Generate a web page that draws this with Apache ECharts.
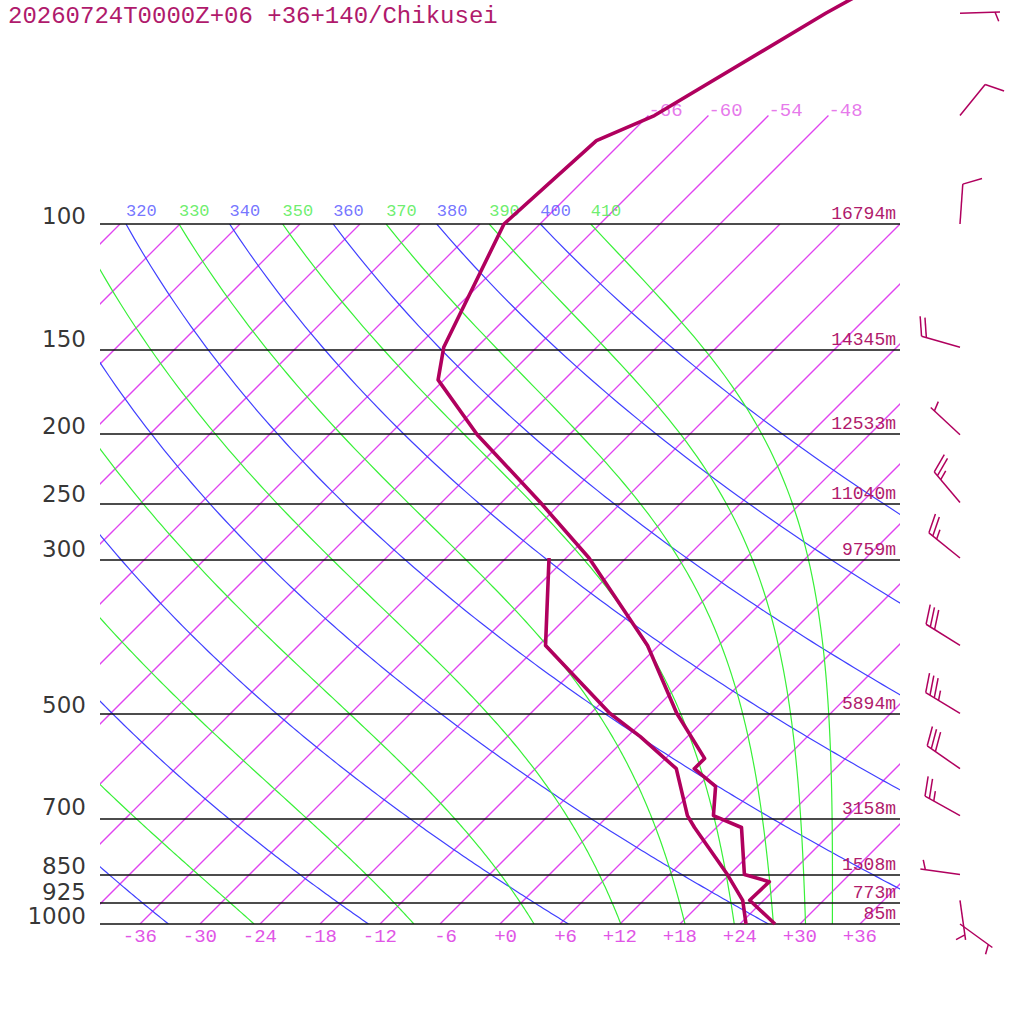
<!DOCTYPE html>
<html><head><meta charset="utf-8">
<script src="https://cdn.jsdelivr.net/npm/echarts@6/dist/echarts.min.js"></script>
<style>html,body{margin:0;padding:0;background:#fff}#c{width:1024px;height:1024px}</style>
</head><body><div id="c"></div>
<script>
// ---------- data ----------
const titleText = '20260724T0000Z+06 +36+140/Chikusei';
const isobarP = [100, 150, 200, 250, 300, 500, 700, 850, 925, 1000];
const isobarHeight = ['16794m', '14345m', '12533m', '11040m', '9759m', '5894m', '3158m', '1508m', '773m', '85m'];
const tempTicks = [-36, -30, -24, -18, -12, -6, 0, 6, 12, 18, 24, 30, 36];
const isothermT = [-108, -102, -96, -90, -84, -78, -72, -66, -60, -54, -48, -42, -36, -30, -24, -18, -12, -6, 0, 6, 12, 18, 24, 30, 36];
const isothermTopT = [-66, -60, -54, -48];
const isothermTopP = 70;
const dryTheta = [240, 260, 280, 300, 320, 340, 360, 380, 400];
const moistThetaE = [250, 270, 290, 310, 330, 350, 370, 390, 410];

const tempP = [1000, 925, 870, 850, 728, 700, 636, 600, 580, 500, 400, 300, 250, 200, 167, 150, 100, 76, 70, 50, 30];
const tempT = [27.5, 22.6, 22.7, 19.5, 14.5, 10.5, 7.8, 3.9, 3.9, -3.4, -13.1, -27.7, -38.1, -51.2, -60.6, -63.3, -69.6, -68.7, -65.4, -58.5, -46];
const dewP = [1000, 925, 850, 728, 700, 600, 540, 500, 436, 400, 300];
const dewT = [24.6, 21.9, 17.8, 9.8, 7.9, 2.1, -4.7, -10.1, -18.2, -23.3, -31.7];

const windP = [1000, 925, 850, 700, 600, 500, 400, 300, 250, 200, 150, 100, 70, 50];
const windDir = [126, 172, 278, 299, 305, 301, 302, 309, 320, 313, 286, 4, 39, 88];
const windSpd = [5, 5, 5, 25, 30, 35, 30, 25, 25, 5, 20, 10, 10, 5];

// ---------- diagram geometry / thermodynamics ----------
const SKEW = 70;           // skewed-x units per decade of pressure
const Y = p => Math.log10(1000 / p);
const X = (t, p) => t + SKEW * Y(p);

function esat(tc) { return 6.112 * Math.exp(17.67 * tc / (tc + 243.5)); }
function thetaE(tk, p) {
  const es = esat(tk - 273.15);
  if (es > 0.5 * p) return 1e9;
  const r = 0.622 * es / (p - es), rg = r * 1000;
  return tk * Math.pow(1000 / p, 0.2854 * (1 - 0.28 * r)) *
    Math.exp((3.376 / tk - 0.00254) * rg * (1 + 0.00081 * rg));
}
function moistT(the, p) {
  let lo = 120, hi = 360;
  for (let i = 0; i < 60; i++) {
    const mid = (lo + hi) / 2;
    if (thetaE(mid, p) > the) hi = mid; else lo = mid;
  }
  return (lo + hi) / 2 - 273.15;
}
function dryT(th, p) { return th * Math.pow(p / 1000, 0.2857) - 273.15; }

const levels = [];
for (let p = 1000; p >= 100; p -= 5) levels.push(p);

// ---------- styles ----------
const C_ISO = '#e044f0', C_ISO_LBL = '#e055e6';
const C_DRY = '#4040ff', C_DRY_LBL = '#5252ff';
const C_MST = '#38f038', C_MST_LBL = '#48ea48';
const C_SND = '#b0005e', C_TXT = '#b01a6c';
const MONO = '"Liberation Mono", "DejaVu Sans Mono", monospace';

const series = [];

function curveSeries(curves, color, clip, z, w) {
  return {
    type: 'custom', coordinateSystem: 'cartesian2d', silent: true, clip: clip, z: z,
    data: curves.map((c, i) => [i]),
    encode: { x: [], y: [] },
    renderItem: (params, api) => {
      const c = curves[params.dataIndex];
      return {
        type: 'polyline',
        shape: { points: c.map(q => api.coord(q)) },
        style: { stroke: color, lineWidth: w || 1, fill: null }
      };
    }
  };
}

// isotherms
series.push(curveSeries(isothermT.map(t => [[X(t, 1000), Y(1000)], [X(t, 100), Y(100)]]), C_ISO, true, 1, 1.3));
series.push(curveSeries(isothermTopT.map(t => [[X(t, 100), Y(100)], [X(t, isothermTopP), Y(isothermTopP)]]), C_ISO, false, 1, 1.3));
series.push({
  type: 'scatter', silent: true, symbolSize: 0, clip: false, z: 5,
  data: isothermTopT.map(t => ({ value: [X(t, isothermTopP), Y(isothermTopP)], name: (t > 0 ? '+' : '') + t })),
  label: { show: true, position: 'right', distance: 0, offset: [0, -5], formatter: '{b}',
    color: C_ISO_LBL, fontFamily: MONO, fontSize: 19 }
});
// dry adiabats
series.push(curveSeries(dryTheta.map(th => levels.map(p => [X(dryT(th, p), p), Y(p)])), C_DRY, true, 2, 1.2));
// moist adiabats
series.push(curveSeries(moistThetaE.map(th => levels.map(p => [X(moistT(th, p), p), Y(p)])), C_MST, true, 2, 1.2));
// adiabat labels at 100 hPa
const lblData = [];
dryTheta.forEach(th => { const x = X(dryT(th, 100), 100); if (x >= -40) lblData.push({ value: [x, Y(100)], name: String(th), c: C_DRY_LBL }); });
moistThetaE.forEach(th => { const x = X(moistT(th, 100), 100); if (x >= -40) lblData.push({ value: [x, Y(100)], name: String(th), c: C_MST_LBL }); });
series.push({
  type: 'scatter', silent: true, symbolSize: 0, clip: false, z: 5,
  data: lblData.map(d => ({ value: d.value, name: d.name, label: { color: d.c } })),
  label: { show: true, position: 'top', align: 'left', distance: 4, formatter: '{b}', fontFamily: MONO, fontSize: 17 }
});
// isobars with heights
series.push({
  type: 'line', silent: true, symbol: 'none', data: [], z: 4,
  markLine: {
    silent: true, symbol: 'none', animation: false,
    lineStyle: { color: '#111', width: 1.5, type: 'solid' },
    label: { show: true, position: 'insideEndTop', distance: [4, 1], color: C_TXT, fontFamily: MONO, fontSize: 18 },
    data: isobarP.map((p, i) => ({ yAxis: Y(p), label: { formatter: isobarHeight[i] } }))
  }
});
// pressure labels at left
series.push({
  type: 'scatter', silent: true, symbolSize: 0, clip: false, z: 5,
  data: isobarP.map(p => ({ value: [-40, Y(p)], name: String(p) })),
  label: { show: true, position: 'left', distance: 14, formatter: '{b}', align: 'right',
    verticalAlign: 'bottom', lineHeight: 17,
    color: '#000', fontFamily: '"DejaVu Sans", sans-serif', fontSize: 23 }
});
// sounding
series.push({
  type: 'line', silent: true, symbol: 'none', clip: false, z: 10,
  lineStyle: { color: C_SND, width: 3.6, join: 'round' },
  data: tempP.map((p, i) => [X(tempT[i], p), Y(p)])
});
series.push({
  type: 'line', silent: true, symbol: 'none', clip: false, z: 10,
  lineStyle: { color: C_SND, width: 3.6, join: 'round' },
  data: dewP.map((p, i) => [X(dewT[i], p), Y(p)])
});
// wind barbs
const BARB_OFFSET = 60, STAFF = 40, FULL = 20, HALF = 10, STEP = 5, ROT = 70 * Math.PI / 180;
series.push({
  type: 'custom', coordinateSystem: 'cartesian2d', clip: false, silent: true, z: 10,
  data: windP.map((p, i) => [40, Y(p), windDir[i], windSpd[i]]),
  encode: { x: 0, y: 1 },
  renderItem: (params, api) => {
    const pt = api.coord([api.value(0), api.value(1)]);
    const sx = pt[0] + BARB_OFFSET, sy = pt[1];
    const d = api.value(2) * Math.PI / 180, spd = api.value(3);
    const ux = Math.sin(d), uy = -Math.cos(d);
    const tx = sx + STAFF * ux, ty = sy + STAFF * uy;
    const a = Math.atan2(uy, ux) + ROT, bx = Math.cos(a), by = Math.sin(a);
    const st = { stroke: C_SND, lineWidth: 1.5 };
    const ch = [{ type: 'line', shape: { x1: sx, y1: sy, x2: tx, y2: ty }, style: st }];
    const full = Math.floor(spd / 10), half = (spd % 10) >= 5 ? 1 : 0;
    let k = 0;
    for (let f = 0; f < full; f++, k++) {
      const px = tx - STEP * k * ux, py = ty - STEP * k * uy;
      ch.push({ type: 'line', shape: { x1: px, y1: py, x2: px + FULL * bx, y2: py + FULL * by }, style: st });
    }
    if (half) {
      if (full === 0) k = 1;
      const px = tx - STEP * k * ux, py = ty - STEP * k * uy;
      ch.push({ type: 'line', shape: { x1: px, y1: py, x2: px + HALF * bx, y2: py + HALF * by }, style: st });
    }
    return { type: 'group', children: ch };
  }
});

const chart = echarts.init(document.getElementById('c'), null, { renderer: 'svg' });
chart.setOption({
  animation: false,
  backgroundColor: '#fff',
  grid: { left: 100, top: 224, width: 800, height: 700, containLabel: false },
  xAxis: {
    type: 'value', min: -40, max: 40,
    axisLine: { show: false }, axisTick: { show: false }, splitLine: { show: false },
    axisLabel: {
      customValues: tempTicks, margin: 3, showMinLabel: true, showMaxLabel: true,
      formatter: v => '{a|' + (v >= 0 ? '+' : '') + v + '}',
      rich: { a: { width: 34, align: 'right', color: C_ISO_LBL, fontFamily: MONO, fontSize: 19 } }
    }
  },
  yAxis: {
    type: 'value', min: 0, max: 1,
    axisLine: { show: false }, axisTick: { show: false }, splitLine: { show: false },
    axisLabel: { show: false }
  },
  graphic: [{
    type: 'text', left: 8, top: 4,
    style: { text: titleText, font: '24px ' + MONO, fill: C_TXT }
  }],
  series: series
});
</script></body></html>
